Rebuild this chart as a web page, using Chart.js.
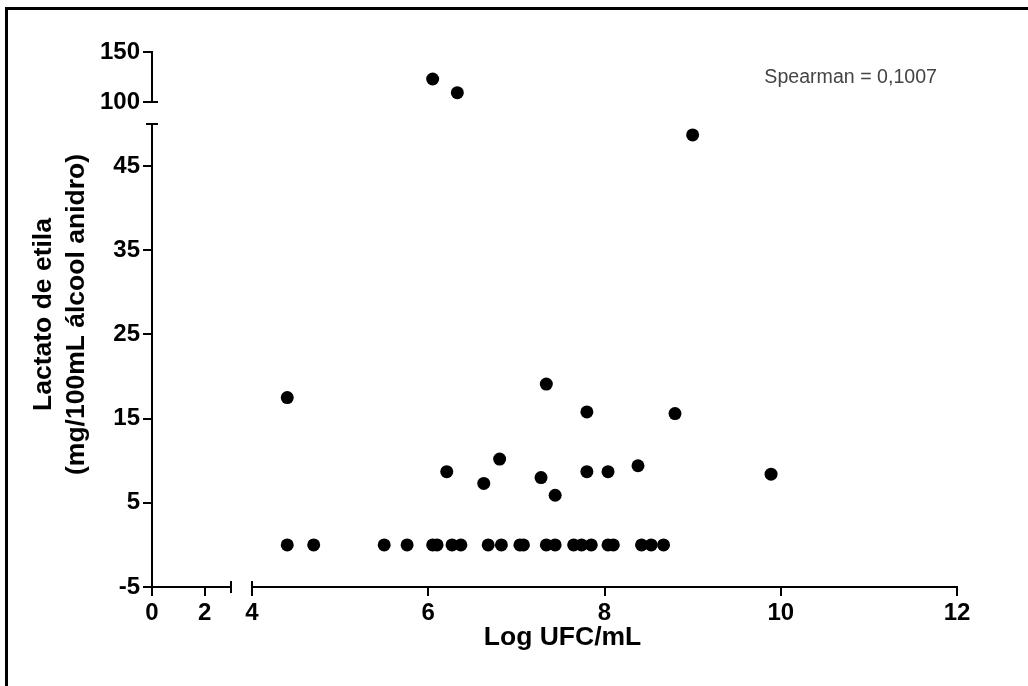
<!DOCTYPE html>
<html>
<head>
<meta charset="utf-8">
<script src="https://cdn.jsdelivr.net/npm/chart.js@4.4.1/dist/chart.umd.min.js"></script>
<style>
html,body{margin:0;padding:0;background:#fff;}
#wrap{position:relative;width:1028px;height:686px;overflow:hidden;}
#frame{position:absolute;left:5px;top:7px;right:-10px;bottom:-10px;border-left:3px solid #000;border-top:3px solid #000;pointer-events:none;}
</style>
</head>
<body>
<div id="wrap"><canvas id="c" width="1028" height="686"></canvas><div id="frame"></div></div>
<script>
// ---- data ----
const lowX = [4.40, 4.70, 5.50, 5.76, 6.05, 6.10, 6.27, 6.37, 6.68, 6.83, 7.04, 7.08, 7.34, 7.44, 7.65, 7.74, 7.85, 8.04, 8.10, 8.42, 8.53, 8.67,
              4.40, 6.21, 6.63, 6.81, 7.28, 7.34, 7.44, 7.80, 7.80, 8.04, 8.38, 8.80, 9.89, 9.00];
const lowY = [0, 0, 0, 0, 0, 0, 0, 0, 0, 0, 0, 0, 0, 0, 0, 0, 0, 0, 0, 0, 0, 0,
              17.5, 8.7, 7.3, 10.2, 8.0, 19.1, 5.9, 15.8, 8.7, 8.7, 9.4, 15.6, 8.4, 48.7];
const highX = [6.05, 6.33];
const highY = [123, 109.3];

// axis segments (broken axes) and tick labels
const yLowRange = [-5, 50];
const yHighRange = [100, 150];
const xLeftRange = [0, 3];
const xRightRange = [4, 12];
const yLowTicks = [-5, 5, 15, 25, 35, 45];
const yHighTicks = [100, 150];
const xLeftTicks = [0, 2];
const xRightTicks = [4, 6, 8, 10, 12];

const yTitleText = ['Lactato de etila', '(mg/100mL álcool anidro)'];
const xTitleText = 'Log UFC/mL';
const noteText = 'Spearman = 0,1007';

// ---- chart ----
const FONT = "'Liberation Sans', Arial, sans-serif";
const tickFont = {family: FONT, size: 24, weight: 'bold'};
const titleFont = {family: FONT, size: 26.5, weight: 'bold', lineHeight: 1.26};

function axis(extra, tickValues) {
  return Object.assign({
    type: 'linear',
    grid: {display: true, drawOnChartArea: false, drawTicks: true, tickLength: 9, tickWidth: 2, tickColor: '#000', lineWidth: 2, color: '#000'},
    border: {display: true, color: '#000', width: 2},
    ticks: {color: '#000', font: tickFont, padding: 3, autoSkip: false, maxRotation: 0, callback: v => String(v)},
    afterBuildTicks: s => { s.ticks = tickValues.map(v => ({value: v})); }
  }, extra);
}
function blank(extra) {
  return Object.assign({
    type: 'linear',
    grid: {display: false},
    border: {display: false},
    ticks: {display: false}
  }, extra);
}

const breakCaps = {
  id: 'breakCaps',
  afterDraw(chart) {
    const {ctx, scales} = chart;
    const ax = scales.yLow.right;
    const ay = scales.xRight.top;
    const c = 6;
    ctx.save();
    ctx.strokeStyle = '#000';
    ctx.lineWidth = 2;
    ctx.beginPath();
    let y = scales.yHigh.getPixelForValue(yHighRange[0]);
    ctx.moveTo(ax, y); ctx.lineTo(ax + c, y);
    y = scales.yLow.getPixelForValue(yLowRange[1]);
    ctx.moveTo(ax - c, y); ctx.lineTo(ax + c, y);
    let x = scales.xLeft.getPixelForValue(xLeftRange[1]);
    ctx.moveTo(x, ay - c); ctx.lineTo(x, ay + c);
    x = scales.xRight.getPixelForValue(xRightRange[0]);
    ctx.moveTo(x, ay - c); ctx.lineTo(x, ay);
    ctx.stroke();
    ctx.restore();
  }
};
const note = {
  id: 'note',
  afterDraw(chart) {
    const {ctx, chartArea} = chart;
    ctx.save();
    ctx.font = "19.6px " + FONT;
    ctx.fillStyle = '#444';
    ctx.textAlign = 'right';
    ctx.textBaseline = 'middle';
    ctx.fillText(noteText, chartArea.right - 20, chartArea.top + 26);
    ctx.restore();
  }
};

const pointStyle = {backgroundColor: '#000', borderColor: '#000', borderWidth: 0, pointRadius: 6.5, pointHoverRadius: 6.5, clip: false};

new Chart(document.getElementById('c'), {
  type: 'scatter',
  data: {
    datasets: [
      Object.assign({label: 'low', xAxisID: 'xRight', yAxisID: 'yLow',
        data: lowX.map((x, i) => ({x: x, y: lowY[i]}))}, pointStyle),
      Object.assign({label: 'high', xAxisID: 'xRight', yAxisID: 'yHigh',
        data: highX.map((x, i) => ({x: x, y: highY[i]}))}, pointStyle)
    ]
  },
  options: {
    responsive: false,
    animation: false,
    devicePixelRatio: 1,
    layout: {padding: {left: 0, top: 52, right: 71, bottom: 0}},
    plugins: {legend: {display: false}, tooltip: {enabled: false}},
    scales: {
      yT: blank({position: 'left', stack: 'yt', stackWeight: 525, weight: 6,
        title: {display: true, text: yTitleText, color: '#000', font: titleFont, padding: {top: 27, bottom: 0}},
        afterFit: s => { s.width = 100; }}),
      yTpad: blank({position: 'left', stack: 'yt', stackWeight: 10, weight: 5, afterFit: s => { s.width = 100; }}),
      yHigh: axis({position: 'left', stack: 'y', stackWeight: 50, weight: 3, min: yHighRange[0], max: yHighRange[1],
        afterFit: s => { s.width = 52; }}, yHighTicks),
      yGap: blank({position: 'left', stack: 'y', stackWeight: 22, weight: 2, afterFit: s => { s.width = 52; }}),
      yLow: axis({position: 'left', stack: 'y', stackWeight: 463, weight: 1, min: yLowRange[0], max: yLowRange[1],
        afterFit: s => { s.width = 52; }}, yLowTicks),
      xLeft: axis({position: 'bottom', stack: 'x', stackWeight: 79, weight: 0, min: xLeftRange[0], max: xLeftRange[1],
        afterFit: s => { s.height = 40; }}, xLeftTicks),
      xGap: blank({position: 'bottom', stack: 'x', stackWeight: 21, weight: 0, afterFit: s => { s.height = 40; }}),
      xRight: axis({position: 'bottom', stack: 'x', stackWeight: 705, weight: 0, min: xRightRange[0], max: xRightRange[1],
        afterFit: s => { s.height = 40; }}, xRightTicks),
      xTpad: blank({position: 'bottom', stack: 'xt', stackWeight: 16, weight: 5, afterFit: s => { s.height = 59; }}),
      xT: blank({position: 'bottom', stack: 'xt', stackWeight: 789, weight: 5,
        title: {display: true, text: xTitleText, color: '#000', font: titleFont, padding: {top: 0, bottom: 32}},
        afterFit: s => { s.height = 59; }})
    }
  },
  plugins: [breakCaps, note]
});
</script>
</body>
</html>
